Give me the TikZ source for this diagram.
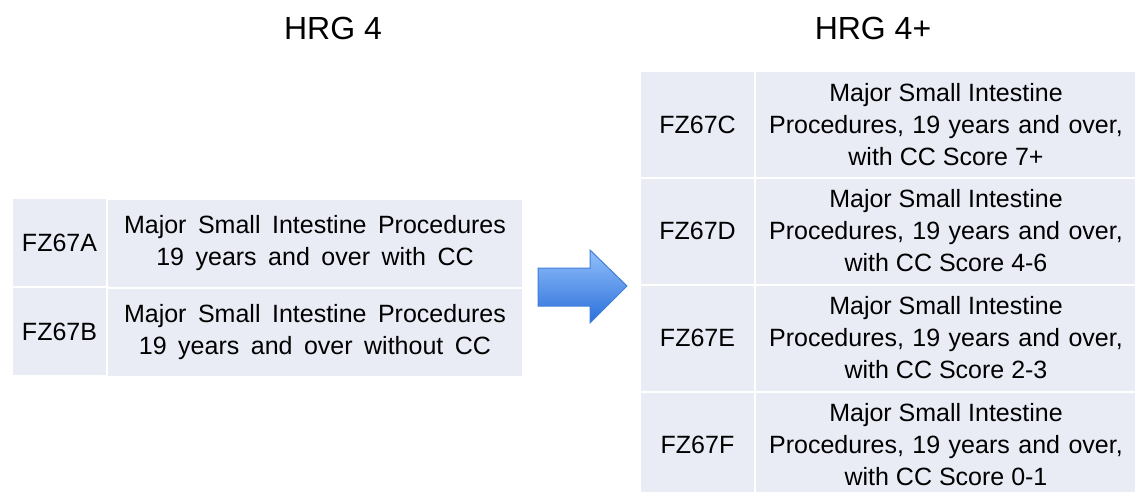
\documentclass[tikz,border=0pt]{standalone}
\usepackage{fontspec}
\setmainfont{Liberation Sans}
\definecolor{cellbg}{HTML}{E9EBF5}
\definecolor{arrtop}{HTML}{93C0FA}
\definecolor{arrbot}{HTML}{2A6FDB}
\definecolor{arredge}{HTML}{3F7FD8}
\newcommand\mycellfont{\fontsize{25}{32}\selectfont}
\newcommand\mywide{\spaceskip=0.46em\relax}
\newcommand\mywidr{\spaceskip=0.34em\relax}
\begin{document}
\begin{tikzpicture}[x=1pt,y=-1pt,
  cell/.style={draw=white,line width=2pt,fill=cellbg,inner sep=0pt,align=center,
    font=\mycellfont},
  title/.style={font=\fontsize{32}{38}\selectfont,inner sep=0pt}]
\useasboundingbox (0,0) rectangle (1135,492);
% titles
\node[title] (t1) at (333,28) {HRG 4};
\node[title] (t2) at (873,28) {HRG 4+};
% left table
\node[cell,minimum width=96,minimum height=89] (a1) at (59.5,242.5) {FZ67A};
\node[cell,minimum width=416,minimum height=89] (a2) at (315,243.5) {\mywide Major Small Intestine Procedures\\\mywide 19 years and over with CC};
\node[cell,minimum width=96,minimum height=89] (b1) at (59.5,331.5) {FZ67B};
\node[cell,minimum width=416,minimum height=89] (b2) at (315,332.5) {\mywide Major Small Intestine Procedures\\\mywide 19 years and over without CC};
% right table
\node[cell,minimum width=115,minimum height=106] (c1) at (697.5,124.5) {FZ67C};
\node[cell,minimum width=382,minimum height=106] (c2) at (946,124.5) {Major Small Intestine\\\mywidr Procedures, 19 years and over,\\with CC Score 7+};
\node[cell,minimum width=115,minimum height=107] (d1) at (697.5,231) {FZ67D};
\node[cell,minimum width=382,minimum height=107] (d2) at (946,231) {Major Small Intestine\\\mywidr Procedures, 19 years and over,\\with CC Score 4-6};
\node[cell,minimum width=115,minimum height=107] (e1) at (697.5,338) {FZ67E};
\node[cell,minimum width=382,minimum height=107] (e2) at (946,338) {Major Small Intestine\\\mywidr Procedures, 19 years and over,\\with CC Score 2-3};
\node[cell,minimum width=115,minimum height=107] (f1) at (697.5,445) {FZ67F};
\node[cell,minimum width=382,minimum height=107] (f2) at (946,445) {Major Small Intestine\\\mywidr Procedures, 19 years and over,\\with CC Score 0-1};
% arrow
\draw[arredge,line width=1pt,top color=arrtop,bottom color=arrbot,line join=miter]
  (538,268) -- (590,268) -- (590,250) -- (627,286) -- (590,323) -- (590,306) -- (538,306) -- cycle;
\end{tikzpicture}
\end{document}
